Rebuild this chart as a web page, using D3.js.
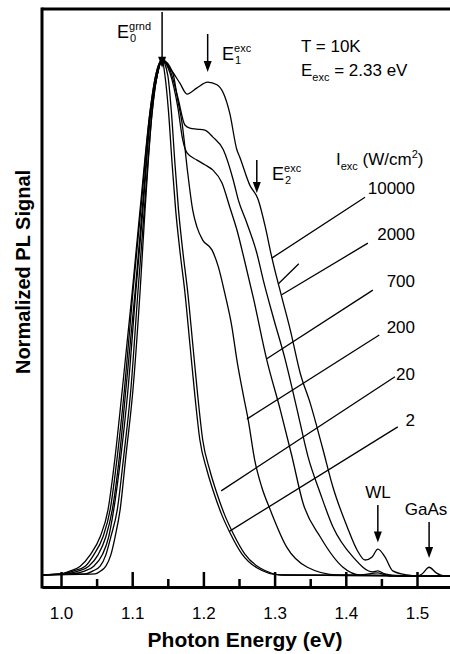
<!DOCTYPE html>
<html><head><meta charset="utf-8">
<script src="https://cdn.jsdelivr.net/npm/d3@7"></script>
<style>
body{margin:0;background:#fff}
svg{display:block}
text{font-family:"Liberation Sans",Arial,Helvetica,sans-serif;fill:#000}
</style>
</head><body>
<svg id="chart" width="450" height="654"></svg>
<script>
// ---------- data (photon energy in eV, normalized PL signal) ----------
const intensities = ["10000", "2000", "700", "200", "20", "2"];

const E_10000 = [0.974,0.999,1.013,1.027,1.041,1.055,1.066,1.076,1.086,1.100,1.111,1.125,1.133,1.142,1.153,1.167,1.177,1.191,1.206,1.219,1.228,1.237,1.247,1.251,1.265,1.277,1.287,1.296,1.310,1.322,1.336,1.350,1.367,1.382,1.402,1.416,1.427,1.437,1.445,1.455,1.466,1.486,1.500,1.507,1.517,1.527,1.539,1.546];
const S_10000 = [0.002,0.004,0.010,0.019,0.041,0.076,0.128,0.231,0.360,0.550,0.709,0.899,0.970,1.000,0.984,0.955,0.934,0.946,0.957,0.952,0.936,0.897,0.826,0.812,0.758,0.729,0.676,0.618,0.541,0.477,0.393,0.335,0.250,0.172,0.095,0.050,0.031,0.037,0.052,0.037,0.010,0.002,0.000,0.004,0.017,0.006,0.000,0.000];

const E_2000 = [0.974,1.001,1.018,1.034,1.046,1.059,1.069,1.079,1.089,1.101,1.112,1.125,1.133,1.142,1.153,1.164,1.174,1.181,1.191,1.202,1.213,1.228,1.242,1.249,1.261,1.275,1.284,1.298,1.315,1.331,1.347,1.364,1.382,1.410,1.438,1.445,1.455,1.476,1.546];
const S_2000 = [0.002,0.004,0.010,0.019,0.041,0.076,0.128,0.231,0.360,0.550,0.709,0.899,0.970,1.000,0.981,0.928,0.874,0.868,0.866,0.864,0.851,0.826,0.767,0.729,0.684,0.626,0.574,0.502,0.419,0.326,0.231,0.161,0.095,0.037,0.008,0.010,0.004,0.000,0.000];

const E_700 = [0.974,1.007,1.025,1.039,1.052,1.063,1.072,1.082,1.091,1.104,1.114,1.126,1.135,1.142,1.153,1.164,1.171,1.177,1.191,1.202,1.213,1.226,1.237,1.247,1.258,1.270,1.289,1.308,1.324,1.340,1.364,1.396,1.420,1.445,1.462,1.546];
const S_700 = [0.002,0.004,0.010,0.019,0.041,0.076,0.128,0.231,0.360,0.550,0.709,0.899,0.970,1.000,0.975,0.909,0.845,0.820,0.806,0.797,0.787,0.762,0.715,0.671,0.610,0.540,0.419,0.322,0.234,0.141,0.076,0.017,0.002,0.006,0.000,0.000];

const E_200 = [0.974,1.015,1.034,1.046,1.058,1.067,1.074,1.084,1.094,1.105,1.115,1.126,1.135,1.142,1.157,1.164,1.170,1.178,1.185,1.191,1.199,1.212,1.221,1.230,1.240,1.247,1.256,1.263,1.272,1.282,1.294,1.317,1.346,1.388,1.546];
const S_200 = [0.002,0.004,0.010,0.019,0.041,0.076,0.128,0.231,0.360,0.550,0.709,0.899,0.970,1.000,0.975,0.922,0.878,0.781,0.709,0.676,0.651,0.632,0.599,0.548,0.483,0.419,0.351,0.302,0.225,0.172,0.128,0.056,0.017,0.002,0.000];

const E_20 = [0.974,1.034,1.045,1.055,1.063,1.070,1.079,1.088,1.098,1.108,1.117,1.128,1.135,1.142,1.150,1.155,1.160,1.165,1.171,1.178,1.185,1.192,1.199,1.209,1.219,1.230,1.242,1.258,1.279,1.312,1.546];
const S_20 = [0.002,0.004,0.010,0.019,0.041,0.076,0.128,0.231,0.360,0.550,0.709,0.899,0.970,1.000,0.970,0.900,0.800,0.710,0.630,0.550,0.450,0.350,0.264,0.205,0.160,0.118,0.082,0.043,0.016,0.002,0.000];

const E_2 = [0.974,1.048,1.056,1.063,1.070,1.076,1.083,1.091,1.101,1.111,1.118,1.128,1.135,1.142,1.146,1.151,1.156,1.161,1.167,1.174,1.181,1.188,1.195,1.205,1.215,1.226,1.238,1.254,1.275,1.308,1.546];
const S_2 = [0.002,0.004,0.010,0.019,0.041,0.076,0.128,0.231,0.360,0.550,0.709,0.899,0.970,1.000,0.970,0.900,0.800,0.710,0.630,0.550,0.450,0.350,0.264,0.205,0.160,0.118,0.082,0.043,0.016,0.002,0.000];

// leader lines from each intensity label to its curve: [E_label, S_label, E_curve, S_curve]
const leaderLines = [
  [1.427,0.734,1.296,0.616],
  [1.334,0.605,1.305,0.566],
  [1.431,0.645,1.310,0.545],
  [1.438,0.554,1.289,0.421],
  [1.447,0.467,1.261,0.304],
  [1.469,0.386,1.225,0.165],
  [1.473,0.289,1.237,0.087]
];

const xMajorTicks = [1.0, 1.1, 1.2, 1.3, 1.4, 1.5];
const xMinorTicks = [1.05, 1.15, 1.25, 1.35, 1.45];
const xTickLabels = ["1.0", "1.1", "1.2", "1.3", "1.4", "1.5"];

// ---------- drawing ----------
const curves = [
  [E_10000, S_10000], [E_2000, S_2000], [E_700, S_700],
  [E_200, S_200], [E_20, S_20], [E_2, S_2]
];

const svg = d3.select("#chart");
const L = 42, R = 450, T = 9, B = 587;
const x = d3.scaleLinear().domain([1 - 19/712, 1 + 389/712]).range([L, R]);
const y = d3.scaleLinear().domain([-0.0213, 1.0988]).range([B, T]);

svg.append("defs").append("clipPath").attr("id", "plot")
  .append("rect").attr("x", L).attr("y", T).attr("width", R - L).attr("height", B - T);

const line = d3.line().x(d => x(d[0])).y(d => y(d[1])).curve(d3.curveMonotoneX);
const g = svg.append("g").attr("clip-path", "url(#plot)");
curves.forEach(([E, S]) => {
  g.append("path").datum(E.map((e, i) => [e, S[i]]))
    .attr("d", line).attr("fill", "none").attr("stroke", "#000").attr("stroke-width", 1.3);
});

// leader lines
leaderLines.forEach(l => {
  svg.append("line").attr("x1", x(l[0])).attr("y1", y(l[1])).attr("x2", x(l[2])).attr("y2", y(l[3]))
    .attr("stroke", "#000").attr("stroke-width", 1.3);
});

// frame
svg.append("line").attr("x1", L).attr("x2", L).attr("y1", T - 1.5).attr("y2", B + 1.5).attr("stroke", "#000").attr("stroke-width", 3);
svg.append("line").attr("x1", L).attr("x2", R).attr("y1", T).attr("y2", T).attr("stroke", "#000").attr("stroke-width", 3);

// x axis
const axisMajor = d3.axisBottom(x).tickValues(xMajorTicks).tickFormat((d, i) => xTickLabels[i])
  .tickSizeInner(-15).tickSizeOuter(0).tickPadding(20);
const ax = svg.append("g").attr("transform", `translate(0,${B})`).call(axisMajor);
ax.select(".domain").attr("stroke-width", 3);
ax.selectAll(".tick line").attr("stroke-width", 2.5);
ax.selectAll(".tick text").attr("font-size", 17).attr("font-family", '"Liberation Sans",Arial,sans-serif');
const axisMinor = d3.axisBottom(x).tickValues(xMinorTicks).tickFormat("").tickSizeInner(-8).tickSizeOuter(0);
const axm = svg.append("g").attr("transform", `translate(0,${B})`).call(axisMinor);
axm.select(".domain").remove();
axm.selectAll(".tick line").attr("stroke-width", 2.5);

// axis titles
svg.append("text").attr("x", 245).attr("y", 647).attr("text-anchor", "middle")
  .attr("font-size", 21).attr("font-weight", "bold").text("Photon Energy (eV)");
svg.append("text").attr("transform", "translate(30,272) rotate(-90)").attr("text-anchor", "middle")
  .attr("font-size", 20).attr("font-weight", "bold").text("Normalized PL Signal");

// arrows
function arrow(xp, y1, y2) {
  svg.append("line").attr("x1", xp).attr("x2", xp).attr("y1", y1).attr("y2", y2 - 8)
    .attr("stroke", "#000").attr("stroke-width", 1.5);
  svg.append("path").attr("d", `M${xp - 4},${y2 - 11} L${xp + 4},${y2 - 11} L${xp},${y2} Z`).attr("fill", "#000");
}
arrow(x(1.142), 12, y(0.985));
arrow(x(1.206), 34, 72);
arrow(x(1.275), 160, 193);
arrow(x(1.445), 505, y(0.065));
arrow(x(1.517), 522, y(0.035));

// energy labels with sub/superscripts
function eLabel(xp, yb, sup, sub) {
  const t = svg.append("text").attr("x", xp).attr("y", yb).attr("font-size", 18);
  t.append("tspan").text("E");
  t.append("tspan").attr("font-size", 11).attr("dy", -8).text(sup);
  svg.append("text").attr("x", xp + 13).attr("y", yb + 4).attr("font-size", 11).text(sub);
}
eLabel(117, 38, "grnd", "0");
eLabel(222, 60, "exc", "1");
eLabel(272, 180, "exc", "2");

svg.append("text").attr("x", 301).attr("y", 52).attr("font-size", 17).text("T = 10K");
const te = svg.append("text").attr("x", 301).attr("y", 76).attr("font-size", 17);
te.append("tspan").text("E");
te.append("tspan").attr("font-size", 11).attr("dy", 5).text("exc");
te.append("tspan").attr("dy", -5).text(" = 2.33 eV");

const ti = svg.append("text").attr("x", 336).attr("y", 165).attr("font-size", 17);
ti.append("tspan").text("I");
ti.append("tspan").attr("font-size", 11).attr("dy", 5).text("exc");
ti.append("tspan").attr("dy", -5).text(" (W/cm");
ti.append("tspan").attr("font-size", 11).attr("dy", -7).text("2");
ti.append("tspan").attr("dy", 7).text(")");

// intensity labels, right aligned
const labelBaselines = [194, 240, 287, 333, 380, 426];
intensities.forEach((lab, i) => {
  svg.append("text").attr("x", 415).attr("y", labelBaselines[i]).attr("text-anchor", "end")
    .attr("font-size", 17).text(lab);
});

svg.append("text").attr("x", 378).attr("y", 498).attr("text-anchor", "middle").attr("font-size", 17).text("WL");
svg.append("text").attr("x", 426).attr("y", 515).attr("text-anchor", "middle").attr("font-size", 17).text("GaAs");
</script>
</body></html>
